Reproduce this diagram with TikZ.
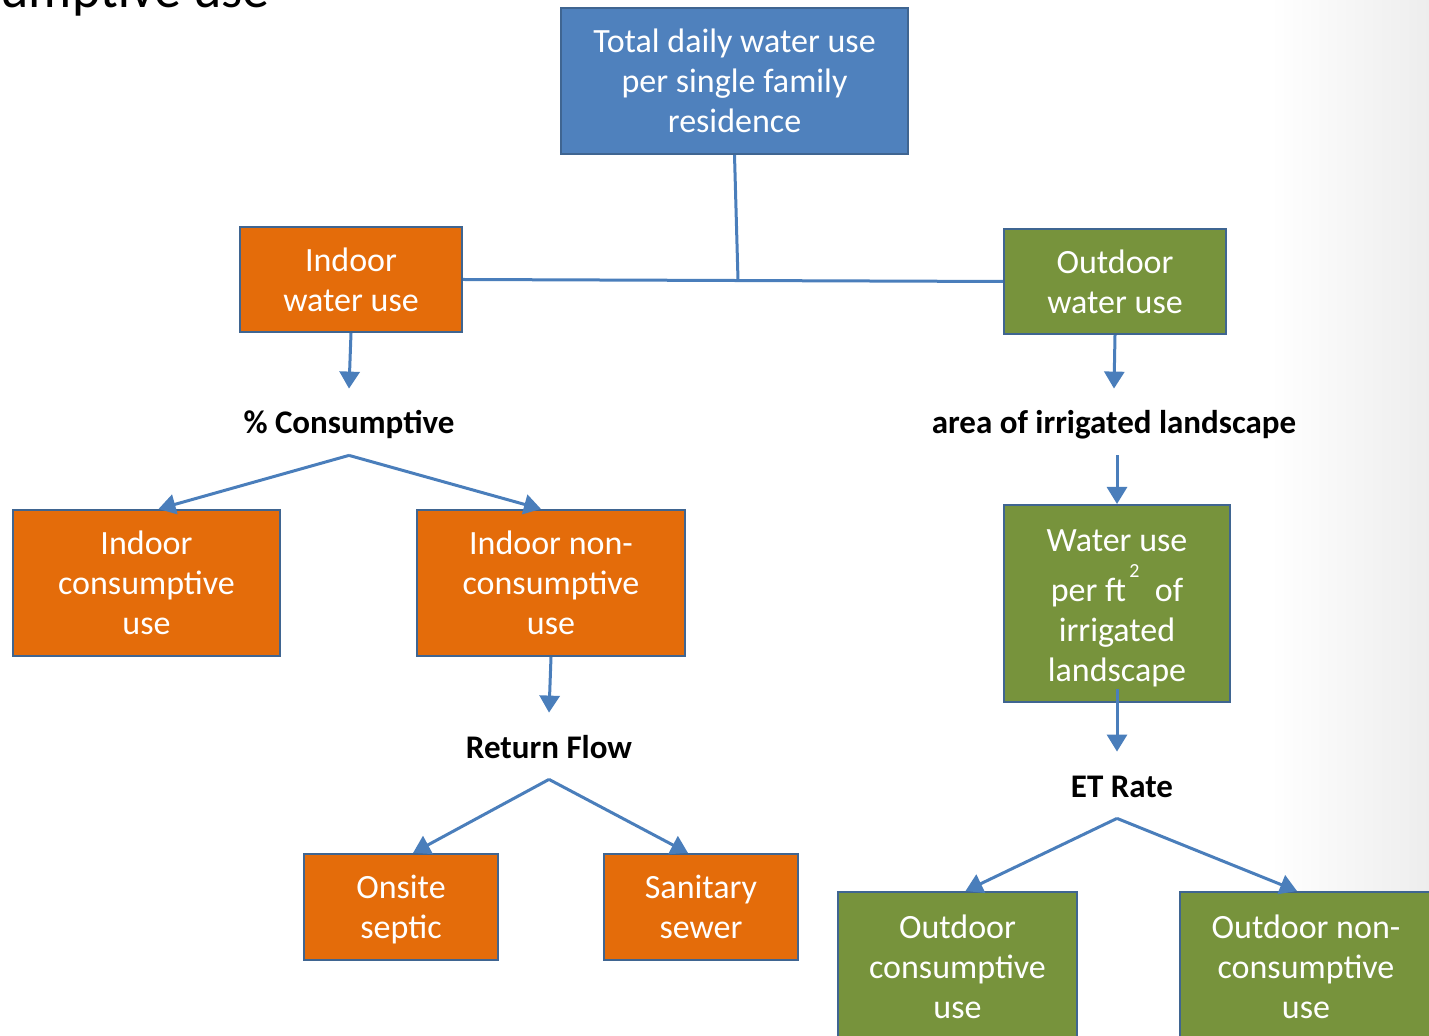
\documentclass[tikz,border=0pt]{standalone}
\usepackage{fontspec}
\setmainfont{Carlito}
\usetikzlibrary{arrows.meta}

\definecolor{boxblue}{HTML}{4F81BD}
\definecolor{boxedge}{HTML}{3F6591}
\definecolor{boxorange}{HTML}{E46C0A}
\definecolor{boxgreen}{HTML}{77933C}
\definecolor{linkblue}{HTML}{4A7EBB}

\tikzset{
  box/.style={draw=boxedge, line width=1pt, inner sep=0pt, align=center, text=white,
    font=\fontsize{17}{20}\selectfont},
  lbl/.style={font=\fontsize{16.5}{20}\selectfont\bfseries, text height=13pt, text depth=1pt,
    inner ysep=9.5pt, inner xsep=0pt},
  link/.style={linkblue, line width=1.5pt},
  flow/.style={link, -{Triangle[width=10pt,length=8.5pt]}},
}

\begin{document}
\begin{tikzpicture}[x=0.5pt,y=-0.5pt]
    \useasboundingbox (0,0) rectangle (1429,1036);
    \clip (0,0) rectangle (1429,1036);

    % faint shadow along the right edge
    \shade[left color=white, right color=black!7] (1270,0) rectangle (1429,1036);

    % slide title, cut off at the top
    \node[anchor=base east, inner sep=0pt, font=\fontsize{27}{30}\selectfont] (title) at (270,8) {Consumptive use};

    % Boxes
    \node[box, fill=boxblue, minimum width=173.5pt, minimum height=73pt] (total) at (734.5,81)
        {Total daily water use\\per single family\\residence};
    \node[box, fill=boxorange, minimum width=111pt, minimum height=52.5pt] (indoor) at (351,279.5)
        {Indoor\\water use};
    \node[box, fill=boxgreen, minimum width=111pt, minimum height=52.5pt] (outdoor) at (1115,281.5)
        {Outdoor\\water use};
    \node[box, fill=boxorange, minimum width=133.5pt, minimum height=73pt] (indcons) at (146.5,583)
        {Indoor\\consumptive\\use};
    \node[box, fill=boxorange, minimum width=134pt, minimum height=73pt] (indnon) at (551,583)
        {Indoor non-\\consumptive\\use};
    \node[box, fill=boxorange, minimum width=97pt, minimum height=53pt] (onsite) at (401,907)
        {\rule{0pt}{14.5pt}Onsite\\septic};
    \node[box, fill=boxorange, minimum width=97pt, minimum height=53pt] (sewer) at (701,907)
        {Sanitary\\sewer};
    \node[box, fill=boxgreen, minimum width=113pt, minimum height=98.5pt] (wateruse) at (1117,603.5)
        {\rule{0pt}{16pt}Water use\\[5pt]per ft\raisebox{0.7em}{\fontsize{10}{10}\selectfont\,2}\ \ of\\irrigated\\landscape};
    \node[box, fill=boxgreen, minimum width=119.5pt, minimum height=75pt] (outcons) at (957.5,967)
        {Outdoor\\consumptive\\use};
    \node[box, fill=boxgreen, minimum width=126pt, minimum height=75pt] (outnon) at (1306,967)
        {Outdoor non-\\consumptive\\use};

    % Text labels
    \node[lbl] (consumptive) at (349,422) {\% Consumptive};
    \node[lbl] (area) at (1114,422) {area of irrigated landscape};
    \node[lbl] (returnflow) at (549,746) {Return Flow};
    \node[lbl] (etrate) at (1122,785) {ET Rate};

    % top split
    \coordinate (hub) at (738,280);
    \draw[link] (total.south) -- (hub);
    \draw[link] (indoor.east) -- (outdoor.west);

    % indoor branch
    \draw[flow] (indoor.south) -- (consumptive.north);
    \draw[flow] (consumptive.south) -- ([xshift=6pt]indcons.north);
    \draw[flow] (consumptive.south) -- ([xshift=-5pt]indnon.north);
    \draw[flow] (indnon.south) -- (returnflow.north);
    \draw[flow] (returnflow.south) -- ([xshift=6pt]onsite.north);
    \draw[flow] (returnflow.south) -- ([xshift=-6.5pt]sewer.north);

    % outdoor branch
    \draw[flow] (outdoor.south) -- (area.north);
    \draw[flow] (wateruse.north |- area.south) -- (wateruse.north);
    \draw[flow] ([yshift=7pt]wateruse.south) -- (wateruse.south |- etrate.north);
    \coordinate (etapex) at (wateruse.south |- etrate.south);
    \draw[flow] (etapex) -- ([xshift=4pt]outcons.north);
    \draw[flow] (etapex) -- ([xshift=-4.5pt]outnon.north);
\end{tikzpicture}
\end{document}
